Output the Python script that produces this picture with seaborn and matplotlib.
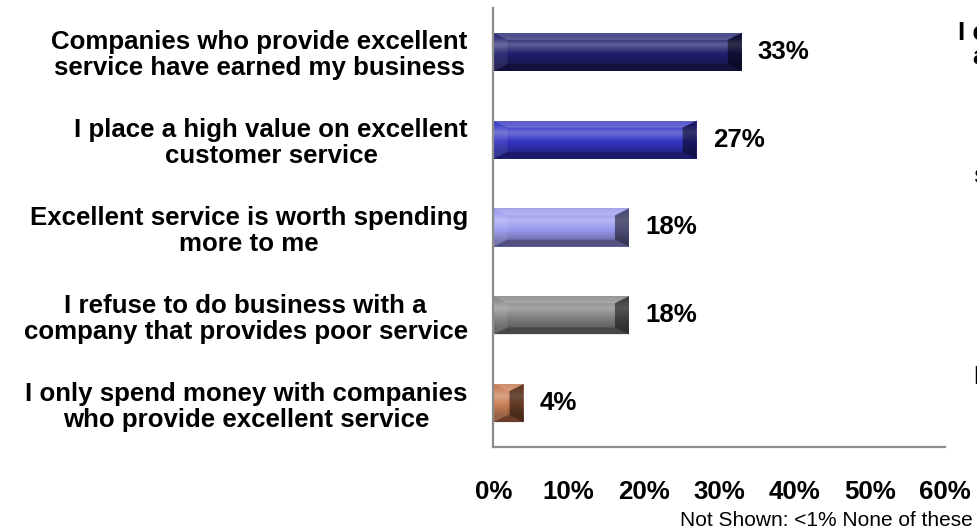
import numpy as np
import pandas as pd
import matplotlib
matplotlib.use("Agg")
import matplotlib.pyplot as plt
from matplotlib.colors import to_rgb
from matplotlib.patches import Polygon
import seaborn as sns

# Survey responses (share of respondents, %)
statements = [
    "Companies who provide excellent\nservice have earned my business",
    "I place a high value on excellent\ncustomer service",
    "Excellent service is worth spending\nmore to me",
    "I refuse to do business with a\ncompany that provides poor service",
    "I only spend money with companies\nwho provide excellent service",
]
shares = [33, 27, 18, 18, 4]
bar_colors = ["#20206e", "#3434c4", "#9a9af0", "#848484", "#c6764c"]
x_ticks = [0, 10, 20, 30, 40, 50, 60]
x_tick_labels = ["0%", "10%", "20%", "30%", "40%", "50%", "60%"]
footnote = "Not Shown: <1% None of these"

sns.set_theme(style="white")
plt.rcParams["font.family"] = ["Liberation Sans", "DejaVu Sans"]
plt.rcParams["text.color"] = "black"
plt.rcParams["xtick.color"] = "black"
plt.rcParams["ytick.color"] = "black"

FS = 18.6  # bold label size (pt)

W, H = 978, 530
fig = plt.figure(figsize=(W / 100, H / 100), dpi=100)
ax = fig.add_axes([493.5 / W, 83 / H, (945 - 493.5) / W, (522 - 83) / H])

df = pd.DataFrame({"statement": statements, "share": shares})
sns.barplot(data=df, x="share", y="statement", hue="statement",
            palette=bar_colors, legend=False, orient="h", width=0.435,
            saturation=1, ax=ax)

ax.set_xlim(0, 60)
ax.set_ylim(len(statements) - 0.5, -0.5)
ax.set_xlabel("")
ax.set_ylabel("")

# Beveled, glossy look for each bar
px_x = (945 - 493.5) / 60.0          # pixels per % unit
px_y = (522 - 83) / len(statements)  # pixels per category
for patch, base in zip(ax.patches, bar_colors):
    x0, w = patch.get_x(), patch.get_width()
    y0, h = patch.get_y(), patch.get_height()
    x1, y1 = x0 + w, y0 + h
    c = np.array(to_rgb(base))
    light = c + (1 - c) * 0.28
    dark = c * 0.72
    stops = [(0.0, c * 0.95), (0.12, c), (0.32, light), (0.55, c), (0.85, dark), (1.0, dark)]
    n = 64
    t = np.linspace(0, 1, n)
    grad = np.zeros((n, 1, 3))
    for k in range(3):
        grad[:, 0, k] = np.interp(t, [s[0] for s in stops], [s[1][k] for s in stops])
    im = ax.imshow(grad, extent=[x0, x1, y1, y0], origin="upper",
                   aspect="auto", interpolation="bilinear", zorder=patch.get_zorder() + 0.1)
    im.set_clip_path(patch)

    bx = 14 / px_x
    by = 7 / px_y
    if bx > w / 2:
        bx, by = w / 2, h / 2
    xi0, xi1, yi0, yi1 = x0 + bx, x1 - bx, y0 + by, y1 - by
    z = patch.get_zorder() + 0.2
    facets = [
        ([(x0, y0), (x1, y0), (xi1, yi0), (xi0, yi0)], "white", 0.22),
        ([(x0, y1), (x1, y1), (xi1, yi1), (xi0, yi1)], "black", 0.25),
        ([(x0, y0), (xi0, yi0), (xi0, yi1), (x0, y1)], "white", 0.08),
        ([(x1, y0), (xi1, yi0), (xi1, yi1), (x1, y1)], "black", 0.50),
    ]
    for pts, col, a in facets:
        ax.add_patch(Polygon(pts, closed=True, facecolor=col, alpha=a,
                             edgecolor="none", zorder=z))

ax.set_xlim(0, 60)
ax.set_ylim(len(statements) - 0.5, -0.5)

for cont in ax.containers:
    ax.bar_label(cont, labels=[f"{v:g}%" for v in cont.datavalues],
                 padding=11.5, fontsize=FS, fontweight="bold", color="black")

ax.set_xticks(x_ticks)
ax.set_xticklabels(x_tick_labels, fontsize=FS, fontweight="bold")
ax.tick_params(axis="x", length=0, pad=24)
ax.tick_params(axis="y", length=0, pad=18.5)
for lab in ax.get_yticklabels():
    lab.set_fontsize(FS)
    lab.set_fontweight("bold")
    lab.set_multialignment("center")
    lab.set_linespacing(1.1)

for side in ["top", "right"]:
    ax.spines[side].set_visible(False)
for side in ["left", "bottom"]:
    ax.spines[side].set_color("#8c8c8c")
    ax.spines[side].set_linewidth(1.6)
ax.grid(False)

fig.text(680 / W, 1 - 520 / H, footnote, fontsize=15, ha="left", va="center")

# Adjacent panel labels running off the right edge
for txt, xp, yp in [("I e", 958, 33), ("a", 972, 57), ("s", 973, 176), ("I", 973, 377)]:
    fig.text(xp / W, 1 - yp / H, txt, fontsize=FS, fontweight="bold",
             ha="left", va="center")

fig.savefig("out.png", dpi=100)
